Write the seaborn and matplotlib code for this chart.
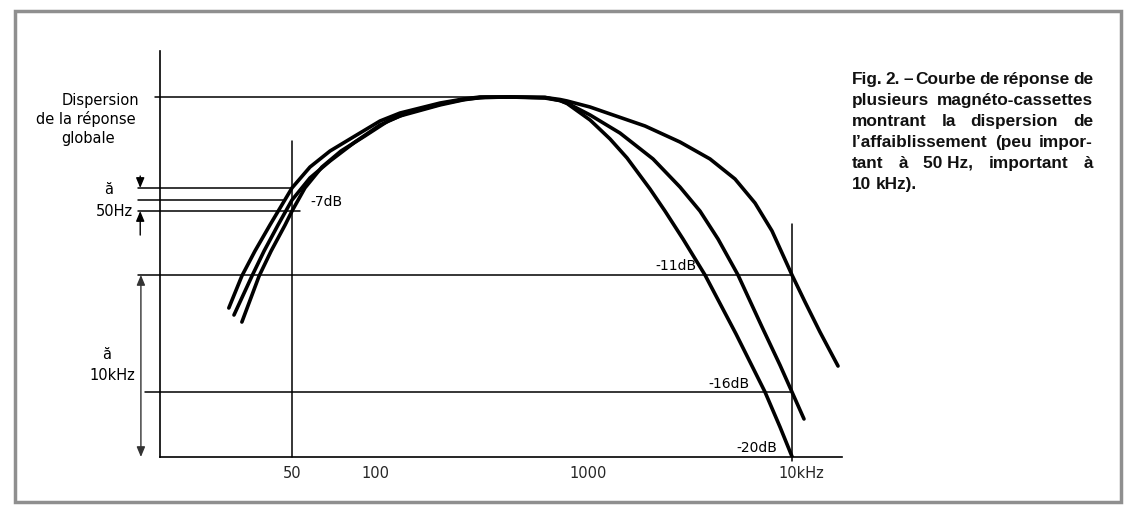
import numpy as np
import pandas as pd
import matplotlib
matplotlib.use("Agg")
import matplotlib.pyplot as plt
import matplotlib.transforms as mtransforms
from matplotlib.patches import Rectangle
from matplotlib.ticker import NullLocator
import seaborn as sns

# response of three cassette decks: frequency (Hz) and level (dB)
freq_a = [29.5, 32.9, 36.7, 41.6, 50, 58.1, 68.7, 84.6, 105.6, 131, 202, 259, 311, 430,
          628, 739, 797, 1023, 1282, 1553, 2013, 2385, 2922, 3746, 5316, 7374, 8733, 10113]
level_a = [-12.41, -11.04, -9.72, -8.33, -6.18, -4.76, -3.67, -2.65, -1.63, -1.09, -0.41,
           -0.14, 0, 0, -0.07, -0.24, -0.44, -1.56, -2.85, -4.14, -6.25, -7.59, -9.08,
           -11.0, -13.52, -16.0, -18.15, -20.12]

freq_b = [30.8, 35.8, 39.6, 44.5, 50, 58.1, 68.7, 84.6, 105.6, 131, 202, 259, 311, 430,
          628, 739, 797, 1023, 1435, 2083, 2825, 3540, 4339, 5437, 7128, 8733, 10000, 11450]
level_b = [-12.71, -11.04, -9.72, -8.33, -7.0, -5.50, -4.35, -3.06, -1.90, -1.29, -0.54,
           -0.20, -0.03, 0, -0.03, -0.24, -0.41, -1.22, -2.45, -4.21, -6.12, -7.59, -9.08,
           -11.0, -13.22, -14.85, -16.0, -17.66]

freq_c = [32.9, 38.0, 42.0, 47.2, 50, 55.7, 64.2, 75.3, 91.9, 115.1, 141.3, 213.1, 267.4,
          328.5, 430, 628, 739, 797, 1023, 1326, 1903, 2825, 3963, 5254, 6586, 7980, 10000,
          11580, 13720, 16810]
level_c = [-13.01, -11.04, -9.72, -8.33, -7.59, -6.18, -4.76, -3.67, -2.65, -1.63, -1.09,
           -0.41, -0.14, -0.03, 0, -0.03, -0.17, -0.27, -0.68, -1.22, -1.97, -3.06, -4.21,
           -5.57, -7.16, -8.65, -11.0, -12.15, -13.44, -14.89]

tick_freqs = [50, 100, 1000, 10000]
tick_labels = ["50", "100", "1000", "10kHz"]

band_50hz = [-6.18, -7.0, -7.59]          # spread of the three decks at 50 Hz
levels_10khz = [-11, -16, -20]            # spread at 10 kHz
labels_10khz = ["-11dB", "-16dB", "-20dB"]

caption_lines = [
    "Fig. 2. – Courbe de réponse de",
    "plusieurs magnéto-cassettes",
    "montrant la dispersion de",
    "l’affaiblissement (peu impor-",
    "tant à 50\u00a0Hz, important à",
    "10 kHz).",
]

W, H = 1127, 510


def px(x, y):
    return (x / W, 1 - y / H)


# the original drawing is only roughly logarithmic in frequency and linear in dB,
# so use a piecewise scale that puts the printed values where they are drawn
LOGF_KNOTS = [0, np.log10(50), 2, 3, 4, 6]
XPOS_KNOTS = [-176.5, 292, 375, 588, 792, 1200]
DB_KNOTS = [-60, -20, -16, -11, -7, 0, 30]
YPOS_KNOTS = [-650, 0, 65, 182, 257, 360, 801.4]


def fx(f):
    with np.errstate(divide="ignore", invalid="ignore"):
        lf = np.log10(np.clip(np.asarray(f, dtype=float), 1e-12, None))
    return np.interp(lf, LOGF_KNOTS, XPOS_KNOTS)


def fx_inv(p):
    return 10 ** np.interp(p, XPOS_KNOTS, LOGF_KNOTS)


def fy(d):
    return np.interp(d, DB_KNOTS, YPOS_KNOTS)


def fy_inv(p):
    return np.interp(p, YPOS_KNOTS, DB_KNOTS)


df = pd.concat([
    pd.DataFrame({"deck": name, "freq": f, "level": l})
    for name, f, l in [("A", freq_a, level_a), ("B", freq_b, level_b), ("C", freq_c, level_c)]
])

sns.set_style("white")
plt.rcParams["font.family"] = ["DejaVu Sans"]

fig = plt.figure(figsize=(W / 100, H / 100), dpi=100)
ax = fig.add_axes([160 / W, 52 / H, 682 / W, 406 / H])

sns.lineplot(data=df, x="freq", y="level", units="deck", estimator=None, sort=False,
             color="black", lw=2.6, ax=ax, legend=False)
for ln in ax.get_lines():
    ln.set_solid_joinstyle("round")

ax.set_xscale("function", functions=(fx, fx_inv))
ax.set_yscale("function", functions=(fy, fy_inv))
ax.set_xlim(fx_inv(160), fx_inv(842))
ax.set_ylim(fy_inv(0), fy_inv(406))

sns.despine(ax=ax)
for s in ["left", "bottom"]:
    ax.spines[s].set_color("black")
    ax.spines[s].set_linewidth(1.2)

ax.set_xticks(tick_freqs, tick_labels)
ax.xaxis.set_minor_locator(NullLocator())
ax.set_yticks([])
ax.yaxis.set_minor_locator(NullLocator())
ax.tick_params(axis="x", length=0, pad=6, labelsize=10.5)
ax.set_xlabel("")
ax.set_ylabel("")
last = ax.get_xticklabels()[-1]
last.set_transform(last.get_transform() + mtransforms.ScaledTranslation(0.09, 0, fig.dpi_scale_trans))

# reference lines
lk = dict(color="black", lw=1.1, clip_on=False)
ax.plot([15.9, 311], [0, 0], **lk)
ax.plot([50, 50], [-20, -3.0], **lk)
ax.plot([10000, 10000], [-20.25, -8.28], **lk)
for lvl, end in zip(band_50hz, [50, 46.4, 53.5]):
    ax.plot([13.8, end], [lvl, lvl], **lk)
ax.plot([13.8, 10000], [levels_10khz[0]] * 2, **lk)
ax.plot([14.6, 10000], [levels_10khz[1]] * 2, **lk)

# arrows on the left
yax = ax.get_yaxis_transform()
arr = dict(arrowstyle="-|>,head_length=0.6,head_width=0.25", color="black", lw=1.0,
           shrinkA=0, shrinkB=0)
ax.annotate("", xy=(-0.029, band_50hz[0]), xytext=(-0.029, -5.37), xycoords=yax,
            textcoords=yax, arrowprops=arr, annotation_clip=False)
ax.annotate("", xy=(-0.029, band_50hz[2]), xytext=(-0.029, -8.87), xycoords=yax,
            textcoords=yax, arrowprops=arr, annotation_clip=False)
ax.annotate("", xy=(-0.028, levels_10khz[2]), xytext=(-0.028, levels_10khz[0]), xycoords=yax,
            textcoords=yax, annotation_clip=False,
            arrowprops=dict(arrowstyle="<|-|>,head_length=0.6,head_width=0.25", color="#333333",
                            lw=1.0, shrinkA=0, shrinkB=0))

# left labels
tk = dict(fontsize=10.5, ha="center", va="center", color="black")
fig.text(*px(100, 100), "Dispersion", **tk)
fig.text(*px(86, 119), "de la réponse", **tk)
fig.text(*px(88, 139), "globale", **tk)
fig.text(*px(109, 190), "ă", **tk)
fig.text(*px(114, 212), "50Hz", **tk)
fig.text(*px(107, 355), "ă", **tk)
fig.text(*px(112, 375), "10kHz", **tk)

dk = dict(fontsize=10, ha="left", va="center", color="black")
fig.text(*px(310, 202), "-7dB", **dk)
for (x, y), lab in zip([(655, 266), (708, 384), (736, 448)], labels_10khz):
    fig.text(*px(x, y), lab, **dk)

# justified caption
ck = dict(fontsize=12.4, fontweight="bold", family=["Liberation Sans", "DejaVu Sans"],
          va="baseline", ha="left", color="#111111")
fig.canvas.draw()
rend = fig.canvas.get_renderer()
x0, x1, base, step = 852, 1093, 84, 21
for i, line in enumerate(caption_lines):
    y = base + i * step
    words = line.split(" ")
    arts = [fig.text(0, 0, w, **ck) for w in words]
    widths = [a.get_window_extent(rend).width for a in arts]
    if i == len(caption_lines) - 1 or len(words) == 1:
        gap = arts[0].get_window_extent(rend).height * 0.3
    else:
        gap = (x1 - x0 - sum(widths)) / (len(words) - 1)
    x = x0
    for a, w in zip(arts, widths):
        a.set_position(px(x, y))
        x += w + gap

# outer frame
fig.add_artist(Rectangle(px(15, 503), (1121 - 15) / W, (503 - 12) / H,
                         transform=fig.transFigure, fill=False, ec="#8f8f8f", lw=2.5))

fig.savefig("out.png", dpi=100, facecolor="white")
